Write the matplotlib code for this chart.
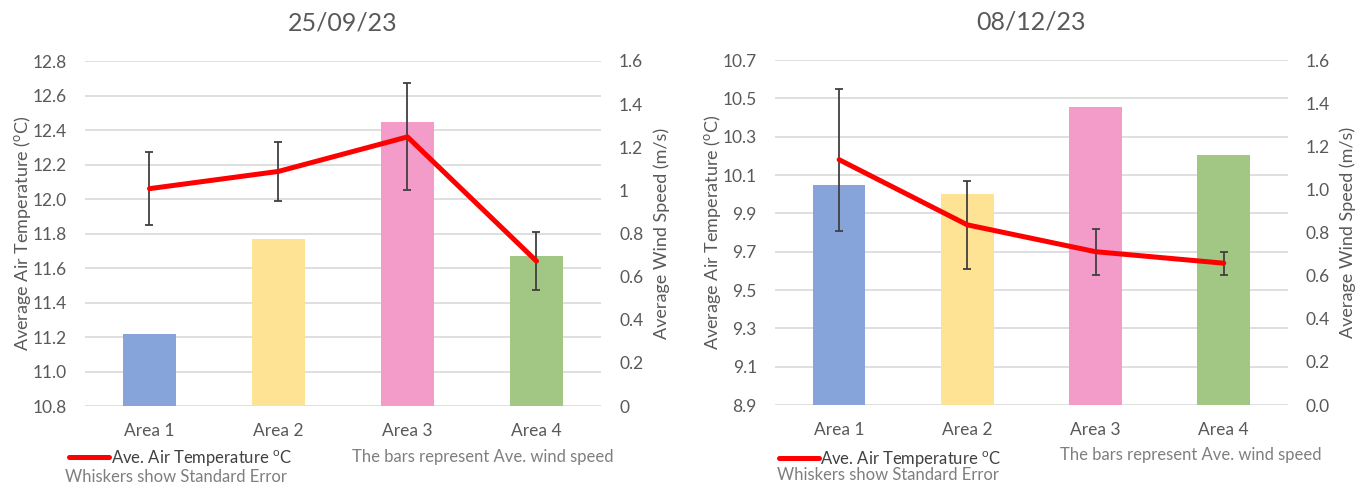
import matplotlib
matplotlib.use("Agg")
import matplotlib.pyplot as plt
from matplotlib.ticker import FormatStrFormatter, FuncFormatter
import numpy as np

plt.rcParams['font.family'] = ['Lato', 'DejaVu Sans']
plt.rcParams['mathtext.default'] = 'regular'

areas = ['Area 1', 'Area 2', 'Area 3', 'Area 4']
bar_colors = ['#86a3da', '#fee394', '#f39bc9', '#a2c784']

# 25/09/23
temp_sep = [12.06, 12.16, 12.36, 11.64]
se_sep = [0.21, 0.17, 0.31, 0.17]
wind_sep = [0.336, 0.776, 1.318, 0.697]

# 08/12/23
temp_dec = [10.18, 9.84, 9.70, 9.64]
se_dec = [0.37, 0.23, 0.12, 0.06]
wind_dec = [1.019, 0.979, 1.380, 1.160]

grey = '#595959'
grid_c = '#d9d9d9'


def panel(rect, title, temp, se, wind, tlim, tstep, wind_fmt):
    ax = fig.add_axes(rect)
    axb = ax.twinx()
    axl = ax.twinx()
    x = np.arange(len(areas))

    ax.set_ylim(*tlim)
    ax.set_yticks(np.arange(tlim[0], tlim[1] + 1e-9, tstep))
    ax.yaxis.set_major_formatter(FormatStrFormatter('%.1f'))
    ax.grid(axis='y', color=grid_c, lw=1.2)
    ax.set_axisbelow(True)
    ax.set_xlim(-0.5, len(areas) - 0.5)
    ax.set_xticks(x)
    ax.set_xticklabels(areas)
    ax.set_ylabel('Average Air Temperature ($^{o}$C)', color=grey, fontsize=13, labelpad=0)
    ax.set_title(title, color=grey, fontsize=18, pad=22)

    axb.bar(x, wind, width=0.41, color=bar_colors)
    axb.set_ylim(0, 1.6)
    axb.set_yticks(np.arange(0, 1.61, 0.2))
    axb.yaxis.set_major_formatter(wind_fmt)
    axb.set_ylabel('Average Wind Speed (m/s)', color=grey, fontsize=13, labelpad=7)

    line, = axl.plot(x, temp, color='#ff0000', lw=3.6, solid_capstyle='round', zorder=3)
    axl.errorbar(x, temp, yerr=se, fmt='none', ecolor='#404040', elinewidth=1.3,
                 capsize=3, capthick=1.3, zorder=2)
    axl.set_ylim(*tlim)
    axl.set_yticks([])

    for a in (ax, axb, axl):
        for s in a.spines.values():
            s.set_visible(False)
        a.tick_params(length=0, colors=grey, labelsize=12.5)
    ax.tick_params(axis='y', pad=13)
    ax.tick_params(axis='x', pad=12)
    axb.tick_params(axis='y', pad=13)
    return ax, line


fig = plt.figure(figsize=(13.64, 4.88), dpi=100)

ax1, line1 = panel([0.0623, 0.168, 0.3783, 0.707], '25/09/23', temp_sep, se_sep, wind_sep,
                   (10.8, 12.8), 0.2, FuncFormatter(lambda v, p: '%g' % round(v, 1)))
ax2, line2 = panel([0.5682, 0.170, 0.376, 0.707], '08/12/23', temp_dec, se_dec, wind_dec,
                   (8.9, 10.7), 0.2, FormatStrFormatter('%.1f'))

leg_label = 'Ave. Air Temperature $^{o}$C'
for line, lx, ly in [(line1, 0.046, 0.0615), (line2, 0.566, 0.0595)]:
    leg = fig.legend([line], [leg_label], loc='center left', bbox_to_anchor=(lx, ly),
                     frameon=False, fontsize=12, handlelength=2.4, handletextpad=0.1,
                     borderaxespad=0)
    for t in leg.get_texts():
        t.set_color('#404040')

note_c = '#7f7f7f'
fig.text(0.048, 0.0225, 'Whiskers show Standard Error', color=note_c, fontsize=12, va='center')
fig.text(0.258, 0.0635, 'The bars represent Ave. wind speed', color=note_c, fontsize=12, va='center')
fig.text(0.570, 0.0266, 'Whiskers show Standard Error', color=note_c, fontsize=12, va='center')
fig.text(0.777, 0.0676, 'The bars represent Ave. wind speed', color=note_c, fontsize=12, va='center')

fig.savefig('out.png', dpi=100)
